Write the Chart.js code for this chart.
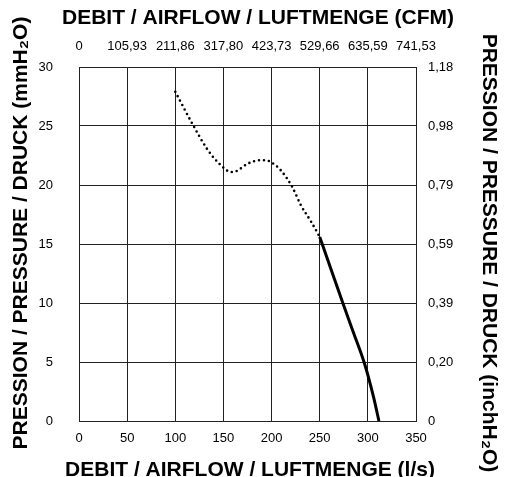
<!DOCTYPE html>
<html>
<head>
<meta charset="utf-8">
<script src="https://cdn.jsdelivr.net/npm/chart.js@4"></script>
<style>
  body { margin: 0; background: #fff; }
</style>
</head>
<body>
<canvas id="fanChart" width="511" height="477"></canvas>
<script>
// flow ticks (l/s) and matching labels on the other axes
const flowTicks = [0, 50, 100, 150, 200, 250, 300, 350];
const cfmLabels = ['0', '105,93', '211,86', '317,80', '423,73', '529,66', '635,59', '741,53'];
const mmTicks = [0, 5, 10, 15, 20, 25, 30];
const inchLabels = ['0', '0,20', '0,39', '0,59', '0,79', '0,98', '1,18'];

// unstable zone (dotted)
const dottedFlow = [100, 119, 133.5, 147, 158, 164, 175, 189, 194, 200, 209, 221, 231, 241, 250];
const dottedPressure = [27.9, 25.0, 23.0, 21.7, 21.1, 21.2, 21.8, 22.1, 22.1, 21.9, 21.3, 19.9, 18.2, 16.9, 15.6];

// working zone (solid)
const solidFlow = [250, 262, 274, 285, 296, 301, 306, 311.5];
const solidPressure = [15.6, 12.8, 10.0, 7.5, 5.0, 3.6, 2.0, 0];

const toPoints = (xs, ys) => xs.map((x, i) => ({ x: x, y: ys[i] }));

const FONT = "'Liberation Sans', Arial, sans-serif";
const tickFont = { family: FONT, size: 13 };
const gridColor = '#222';

// axis titles drawn by hand so chart.js does not squeeze them to the plot width
const axisTitles = {
  id: 'axisTitles',
  afterDraw(chart) {
    const c = chart.ctx;
    const put = (text, x, y, rot) => {
      c.save();
      c.translate(x, y);
      c.rotate(rot);
      c.font = 'bold 21px ' + FONT;
      c.fillStyle = '#000';
      c.textAlign = 'center';
      c.textBaseline = 'middle';
      c.fillText(text, 0, 0);
      c.restore();
    };
    put('DEBIT / AIRFLOW / LUFTMENGE (CFM)', 258, 18, 0);
    put('DEBIT / AIRFLOW / LUFTMENGE (l/s)', 250, 470, 0);
    put('PRESSION / PRESSURE / DRUCK (mmH₂O)', 21, 233, -Math.PI / 2);
    put('PRESSION / PRESSURE / DRUCK (inchH₂O)', 489, 253, Math.PI / 2);
  },
};

const ctx = document.getElementById('fanChart').getContext('2d');
// eslint-disable-next-line
const chart = new Chart(ctx, {
  type: 'scatter',
  data: {
    datasets: [
      {
        data: toPoints(dottedFlow, dottedPressure),
        showLine: true,
        borderColor: '#000',
        borderWidth: 2.6,
        borderDash: [0, 5],
        borderCapStyle: 'round',
        cubicInterpolationMode: 'monotone',
        pointRadius: 0,
      },
      {
        data: toPoints(solidFlow, solidPressure),
        showLine: true,
        borderColor: '#000',
        borderWidth: 3,
        cubicInterpolationMode: 'monotone',
        pointRadius: 0,
      },
    ],
  },
  plugins: [axisTitles],
  options: {
    responsive: false,
    animation: false,
    layout: { padding: 0 },
    plugins: { legend: { display: false }, tooltip: { enabled: false } },
    scales: {
      x: {
        type: 'linear',
        position: 'bottom',
        min: 0,
        max: 350,
        afterBuildTicks: (s) => { s.ticks = flowTicks.map((v) => ({ value: v })); },
        afterFit: (s) => { s.height = 56; },
        ticks: { font: tickFont, color: '#000', padding: 10, maxRotation: 0 },
        grid: { color: gridColor, drawTicks: false },
        border: { color: gridColor },
      },
      x2: {
        type: 'linear',
        position: 'top',
        min: 0,
        max: 350,
        afterBuildTicks: (s) => { s.ticks = flowTicks.map((v) => ({ value: v })); },
        afterFit: (s) => { s.height = 67; },
        ticks: {
          font: tickFont,
          color: '#000',
          padding: 13,
          maxRotation: 0,
          autoSkip: false,
          callback: (v) => cfmLabels[flowTicks.indexOf(v)],
        },
        grid: { display: false, drawTicks: false },
        border: { display: false },
      },
      y: {
        type: 'linear',
        position: 'left',
        min: 0,
        max: 30,
        afterBuildTicks: (s) => { s.ticks = mmTicks.map((v) => ({ value: v })); },
        afterFit: (s) => { s.width = 79; },
        ticks: { font: tickFont, color: '#000', padding: 26 },
        grid: { color: gridColor, drawTicks: false },
        border: { color: gridColor },
      },
      y2: {
        type: 'linear',
        position: 'right',
        min: 0,
        max: 30,
        afterBuildTicks: (s) => { s.ticks = mmTicks.map((v) => ({ value: v })); },
        afterFit: (s) => { s.width = 95; },
        ticks: {
          font: tickFont,
          color: '#000',
          padding: 12,
          autoSkip: false,
          callback: (v) => inchLabels[mmTicks.indexOf(v)],
        },
        grid: { display: false, drawTicks: false },
        border: { display: false },
      },
    },
  },
});
</script>
</body>
</html>
